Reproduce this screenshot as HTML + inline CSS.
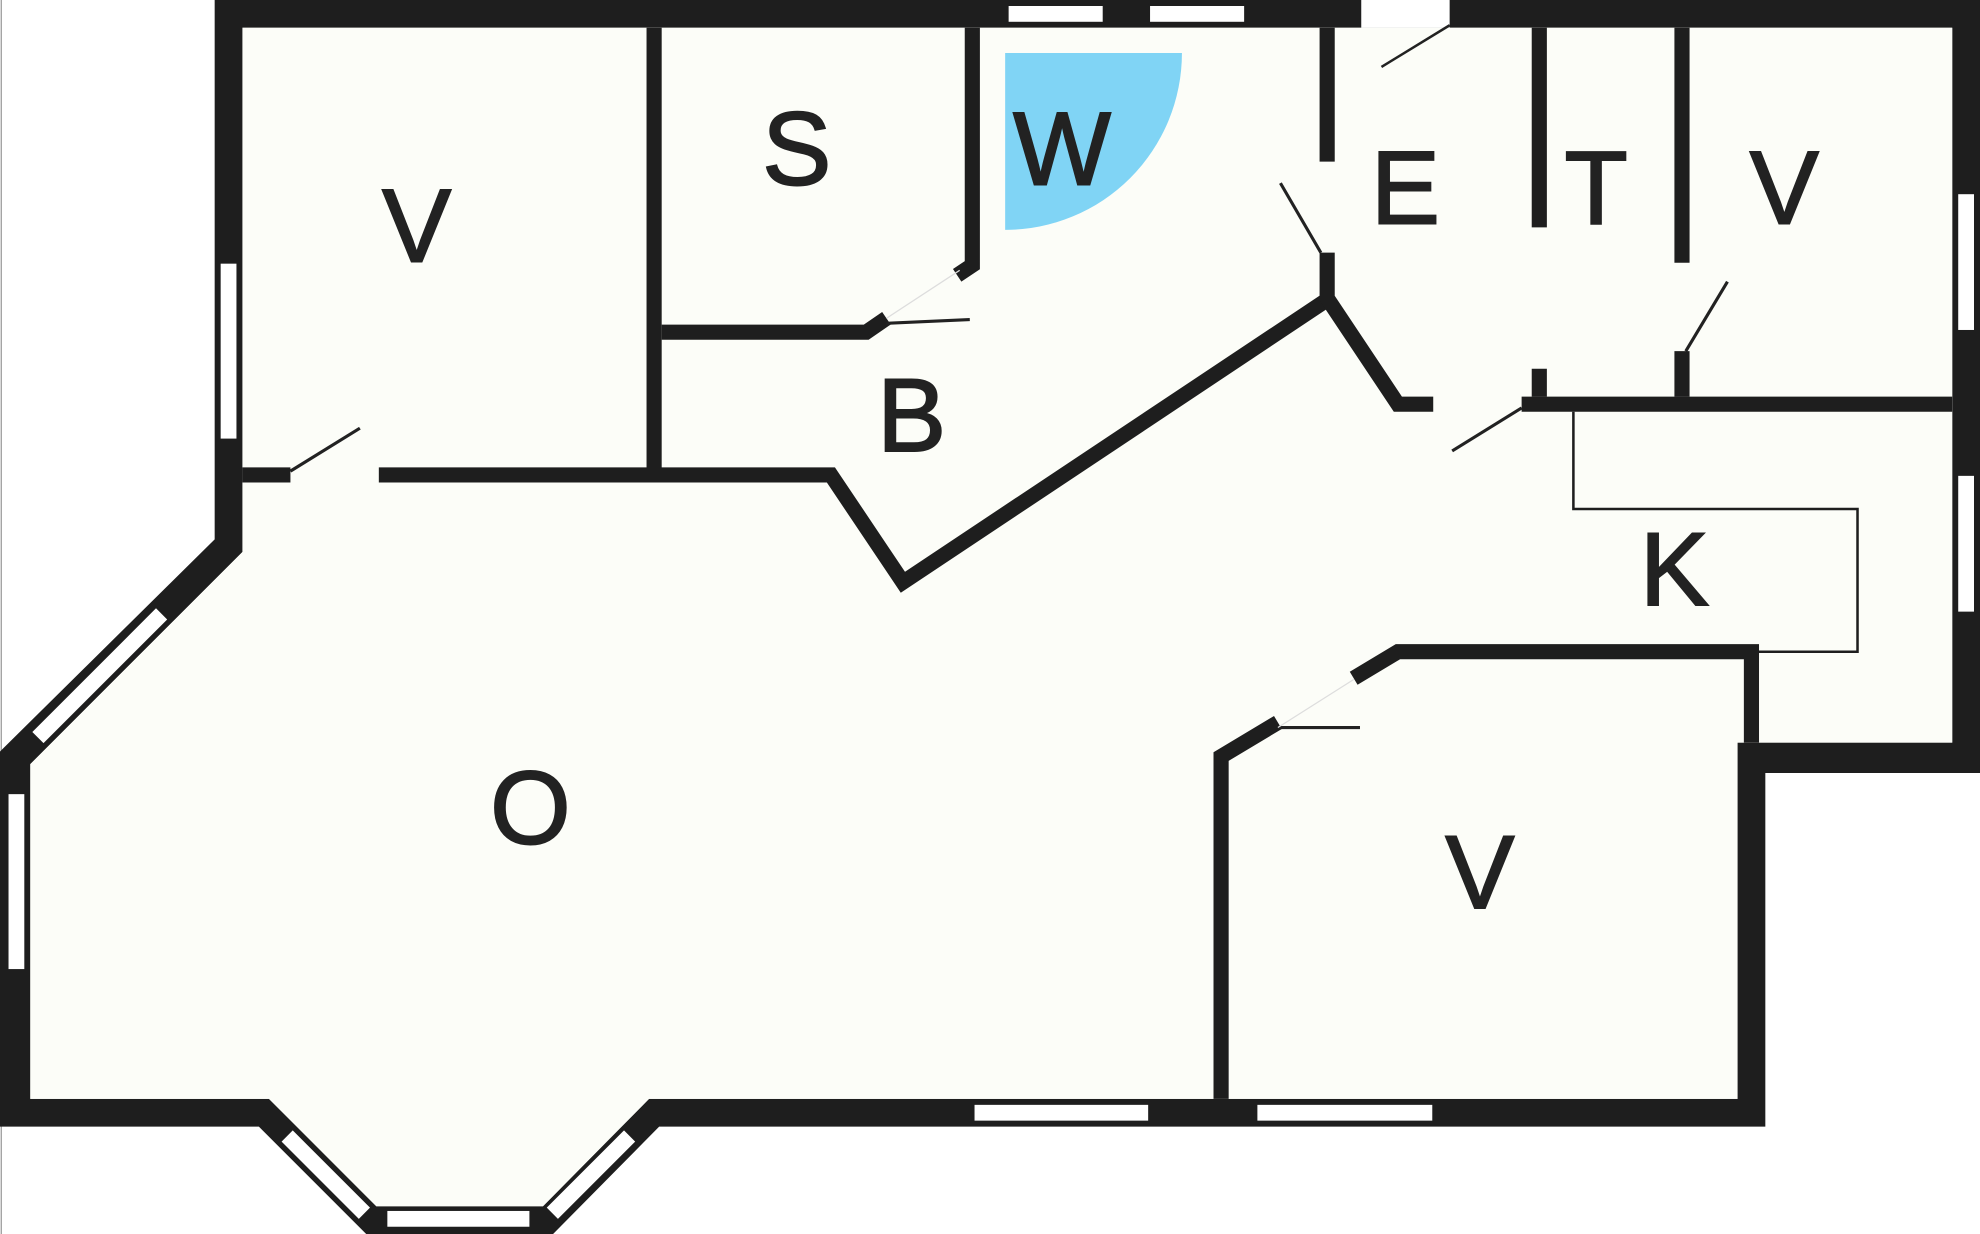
<!DOCTYPE html>
<html><head><style>
html,body{margin:0;padding:0;background:#fff;}
svg{display:block;}
text{font-family:"Liberation Sans",sans-serif;font-size:82px;fill:#222;stroke:#222;stroke-width:1.5;text-anchor:middle;}
</style></head><body>
<svg width="1980" height="1234" viewBox="0 0 1568 977" preserveAspectRatio="none" xmlns="http://www.w3.org/2000/svg">
<rect x="0" y="0" width="1568" height="977" fill="#fff"/>
<line x1="1" y1="0" x2="1" y2="977" stroke="#999" stroke-width="1"/>
<path fill-rule="evenodd" fill="#1e1e1e" d="M170,0 H1568 V612 H1398 V892 H522 L438,977 H290 L205,892 H0 V595 L170,427 Z
M192,22 H1546 V588 H1376 V870 H514 L430,955 H298 L213,870 H24 V605 L192,437 Z"/>
<path fill="#fcfdf8" d="M192,22 H1546 V588 H1376 V870 H514 L430,955 H298 L213,870 H24 V605 L192,437 Z"/>
<path d="M796,42 H936 A140,140 0 0 1 796,182 Z" fill="#80d4f5"/>
<rect x="1078" y="0" width="70" height="22" fill="#fff"/>
<line x1="1094" y1="53" x2="1148" y2="20" stroke="#222" stroke-width="2"/>
<g fill="#fff" stroke="#1e1e1e" stroke-width="1.5">
<rect x="798" y="4" width="76" height="14"/>
<rect x="910" y="4" width="76" height="14"/>
<rect x="174" y="208" width="14" height="140"/>
<rect x="1550" y="153" width="14" height="109"/>
<rect x="1550" y="376" width="14" height="109"/>
<rect x="6" y="628" width="14" height="140"/>
<rect x="771" y="874" width="139" height="14"/>
<rect x="995" y="874" width="140" height="14"/>
<rect x="306" y="958" width="114" height="14"/>
<rect x="-70" y="-7" width="140" height="14" transform="translate(79,535) rotate(-45)"/>
<rect x="-44" y="-7" width="88" height="14" transform="translate(258,930) rotate(45)"/>
<rect x="-44" y="-7" width="88" height="14" transform="translate(468,930) rotate(-45)"/>
</g>
<g stroke="#1e1e1e" stroke-width="12" fill="none" stroke-linejoin="miter" stroke-linecap="butt">
<line x1="518" y1="22" x2="518" y2="376"/>
<polyline points="524,263 686,263 702,252"/>
<polyline points="770,22 770,210 758,218"/>
<line x1="192" y1="376" x2="230" y2="376"/>
<polyline points="300,376 658,376 715,461 1050,238"/>
<line x1="1051" y1="22" x2="1051" y2="128"/>
<polyline points="1051,200 1051,236 1107,320 1135,320"/>
<line x1="1205" y1="320" x2="1546" y2="320"/>
<line x1="1219" y1="22" x2="1219" y2="180"/>
<line x1="1219" y1="292" x2="1219" y2="314"/>
<line x1="1332" y1="22" x2="1332" y2="208"/>
<line x1="1332" y1="278" x2="1332" y2="314"/>
<polyline points="1387,588 1387,516 1107,516 1072,537"/>
<polyline points="1012,572 967,599 967,870"/>
</g>
<polyline points="1246,326 1246,403 1471,403 1471,516 1392,516" fill="none" stroke="#1e1e1e" stroke-width="2"/>
<g stroke="#222" stroke-width="2.5" fill="none">
<line x1="230" y1="373" x2="285" y2="339"/>
<line x1="702" y1="256" x2="768" y2="253"/>
<line x1="1046" y1="200" x2="1014" y2="145"/>
<line x1="1150" y1="357" x2="1205" y2="323"/>
<line x1="1335" y1="278" x2="1368" y2="223"/>
<line x1="1012" y1="576" x2="1077" y2="576"/>
</g>
<g stroke="#ddd" stroke-width="1">
<line x1="702" y1="252" x2="760" y2="214"/>
<line x1="1012" y1="576" x2="1072" y2="538"/>
</g>
<text x="330" y="207">V</text>
<text x="631" y="146">S</text>
<text x="841" y="146">W</text>
<text x="1113" y="177">E</text>
<text x="1264" y="177">T</text>
<text x="1413" y="177">V</text>
<text x="722" y="357">B</text>
<text x="1326" y="479">K</text>
<text x="420" y="668">O</text>
<text x="1172" y="719">V</text>
</svg>
</body></html>
